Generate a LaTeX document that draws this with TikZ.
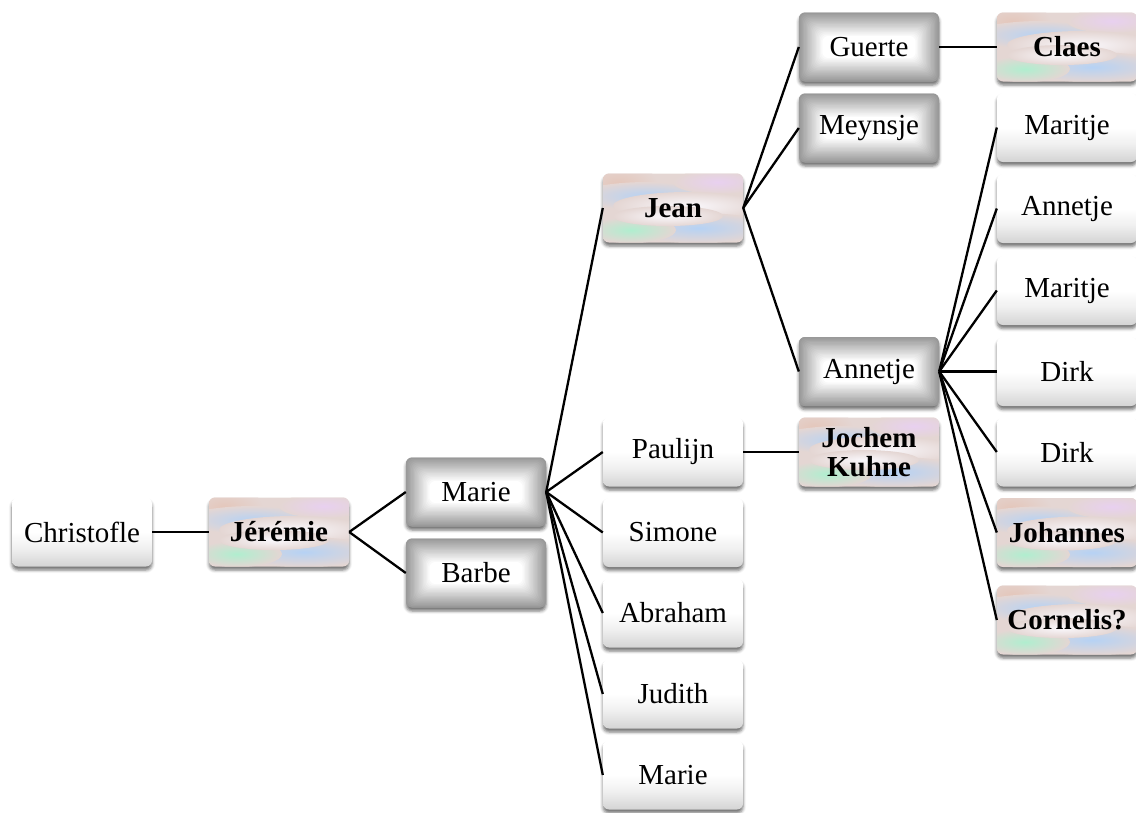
\documentclass[tikz,border=0pt]{standalone}
\usepackage{fontspec}
\setmainfont{Liberation Serif}
\usetikzlibrary{shadows.blur}
\pgfdeclareverticalshading{wboxsh}{100bp}{color(0bp)=(black!17); color(25bp)=(black!17); color(38bp)=(black!6); color(50bp)=(white); color(100bp)=(white)}
\definecolor{pbase}{HTML}{E4D6D3}
\definecolor{pblue}{HTML}{B6D2F4}
\definecolor{pwhite}{HTML}{FAF8FC}
\definecolor{pmint}{HTML}{B0EECF}
\definecolor{plav}{HTML}{E8D0F0}
\definecolor{ppeach}{HTML}{E4C6BA}
\tikzset{
  base/.style={rectangle, rounded corners=6pt, minimum width=140pt, minimum height=69pt,
    inner sep=0pt, align=center, font=\fontsize{29}{29}\selectfont,
    blur shadow={shadow xshift=0pt, shadow yshift=-3.5pt, shadow blur radius=3pt, shadow opacity=55}},
  wbox/.style={base, shading=wboxsh},
  gbox/.style={base, fill=black!40, path picture={
    \foreach \i in {0,...,18}{
      \pgfmathsetmacro\c{40*(1-\i/18)}
      \fill[black!\c] ([xshift=\i*1.3pt, yshift=-\i*1.3pt]path picture bounding box.north west)
        rectangle ([xshift=-\i*1.3pt, yshift=\i*1.3pt]path picture bounding box.south east);
    }}},
  pe/.style={inner color=#1, outer color=pbase},
  pbox/.style={base, fill=pbase, font=\bfseries\fontsize{29}{29}\selectfont, path picture={
    \coordinate (pc) at (path picture bounding box.center);
    \shade[pe=ppeach] ([shift={(-55pt,24pt)}]pc) ellipse (40pt and 20pt);
    \shade[pe=pblue] ([shift={(-25pt,12pt)}]pc) ellipse (70pt and 14pt);
    \shade[pe=plav] ([shift={(45pt,26pt)}]pc) ellipse (45pt and 12pt);
    \shade[pe=pwhite] ([shift={(15pt,2pt)}]pc) ellipse (75pt and 14pt);
    \shade[pe=pblue] ([shift={(25pt,-20pt)}]pc) ellipse (75pt and 15pt);
    \shade[pe=pmint] ([shift={(-42pt,-22pt)}]pc) ellipse (45pt and 13pt);
    \shade[pe=pwhite] ([shift={(-5pt,-8pt)}]pc) ellipse (55pt and 10pt);
    }},
  conn/.style={line width=2.3pt, black}
}
\begin{document}
\begin{tikzpicture}[x=1pt,y=-1pt]
\useasboundingbox (0,0) rectangle (1136,812);
% column 1-2
\node[wbox] (chr) at (82,532) {Christofle};
\node[pbox] (jer) at (279,532) {Jérémie};
% column 3
\node[gbox] (mar) at (476,492) {Marie};
\node[gbox] (bar) at (476,573) {Barbe};
% column 4
\node[pbox] (jea) at (673,208) {Jean};
\node[wbox] (pau) at (673,452) {Paulijn};
\node[wbox] (sim) at (673,532.5) {Simone};
\node[wbox] (abr) at (673,613) {Abraham};
\node[wbox] (jud) at (673,694) {Judith};
\node[wbox] (mar2) at (673,775) {Marie};
% column 5
\node[gbox] (gue) at (869,47) {Guerte};
\node[gbox] (mey) at (869,128) {Meynsje};
\node[gbox] (ann) at (869,371.5) {Annetje};
\node[pbox] (joc) at (869,452) {Jochem\\Kuhne};
% column 6
\node[pbox] (cla) at (1067,47) {Claes};
\node[wbox] (m1) at (1067,127.5) {Maritje};
\node[wbox] (a1) at (1067,208.5) {Annetje};
\node[wbox] (m2) at (1067,290.5) {Maritje};
\node[wbox] (d1) at (1067,371.5) {Dirk};
\node[wbox] (d2) at (1067,452) {Dirk};
\node[pbox] (joh) at (1067,532.5) {Johannes};
\node[pbox] (cor) at (1067,620) {Cornelis?};
% connectors
\draw[conn] (chr.east) -- (jer.west);
\foreach \t in {mar,bar} \draw[conn] (jer.east) -- (\t.west);
\foreach \t in {jea,pau,sim,abr,jud,mar2} \draw[conn] (mar.east) -- (\t.west);
\foreach \t in {gue,mey,ann} \draw[conn] (jea.east) -- (\t.west);
\draw[conn] (gue.east) -- (cla.west);
\draw[conn] (pau.east) -- (joc.west);
\foreach \t in {m1,a1,m2,d1,d2,joh,cor} \draw[conn] (ann.east) -- (\t.west);
\end{tikzpicture}
\end{document}
